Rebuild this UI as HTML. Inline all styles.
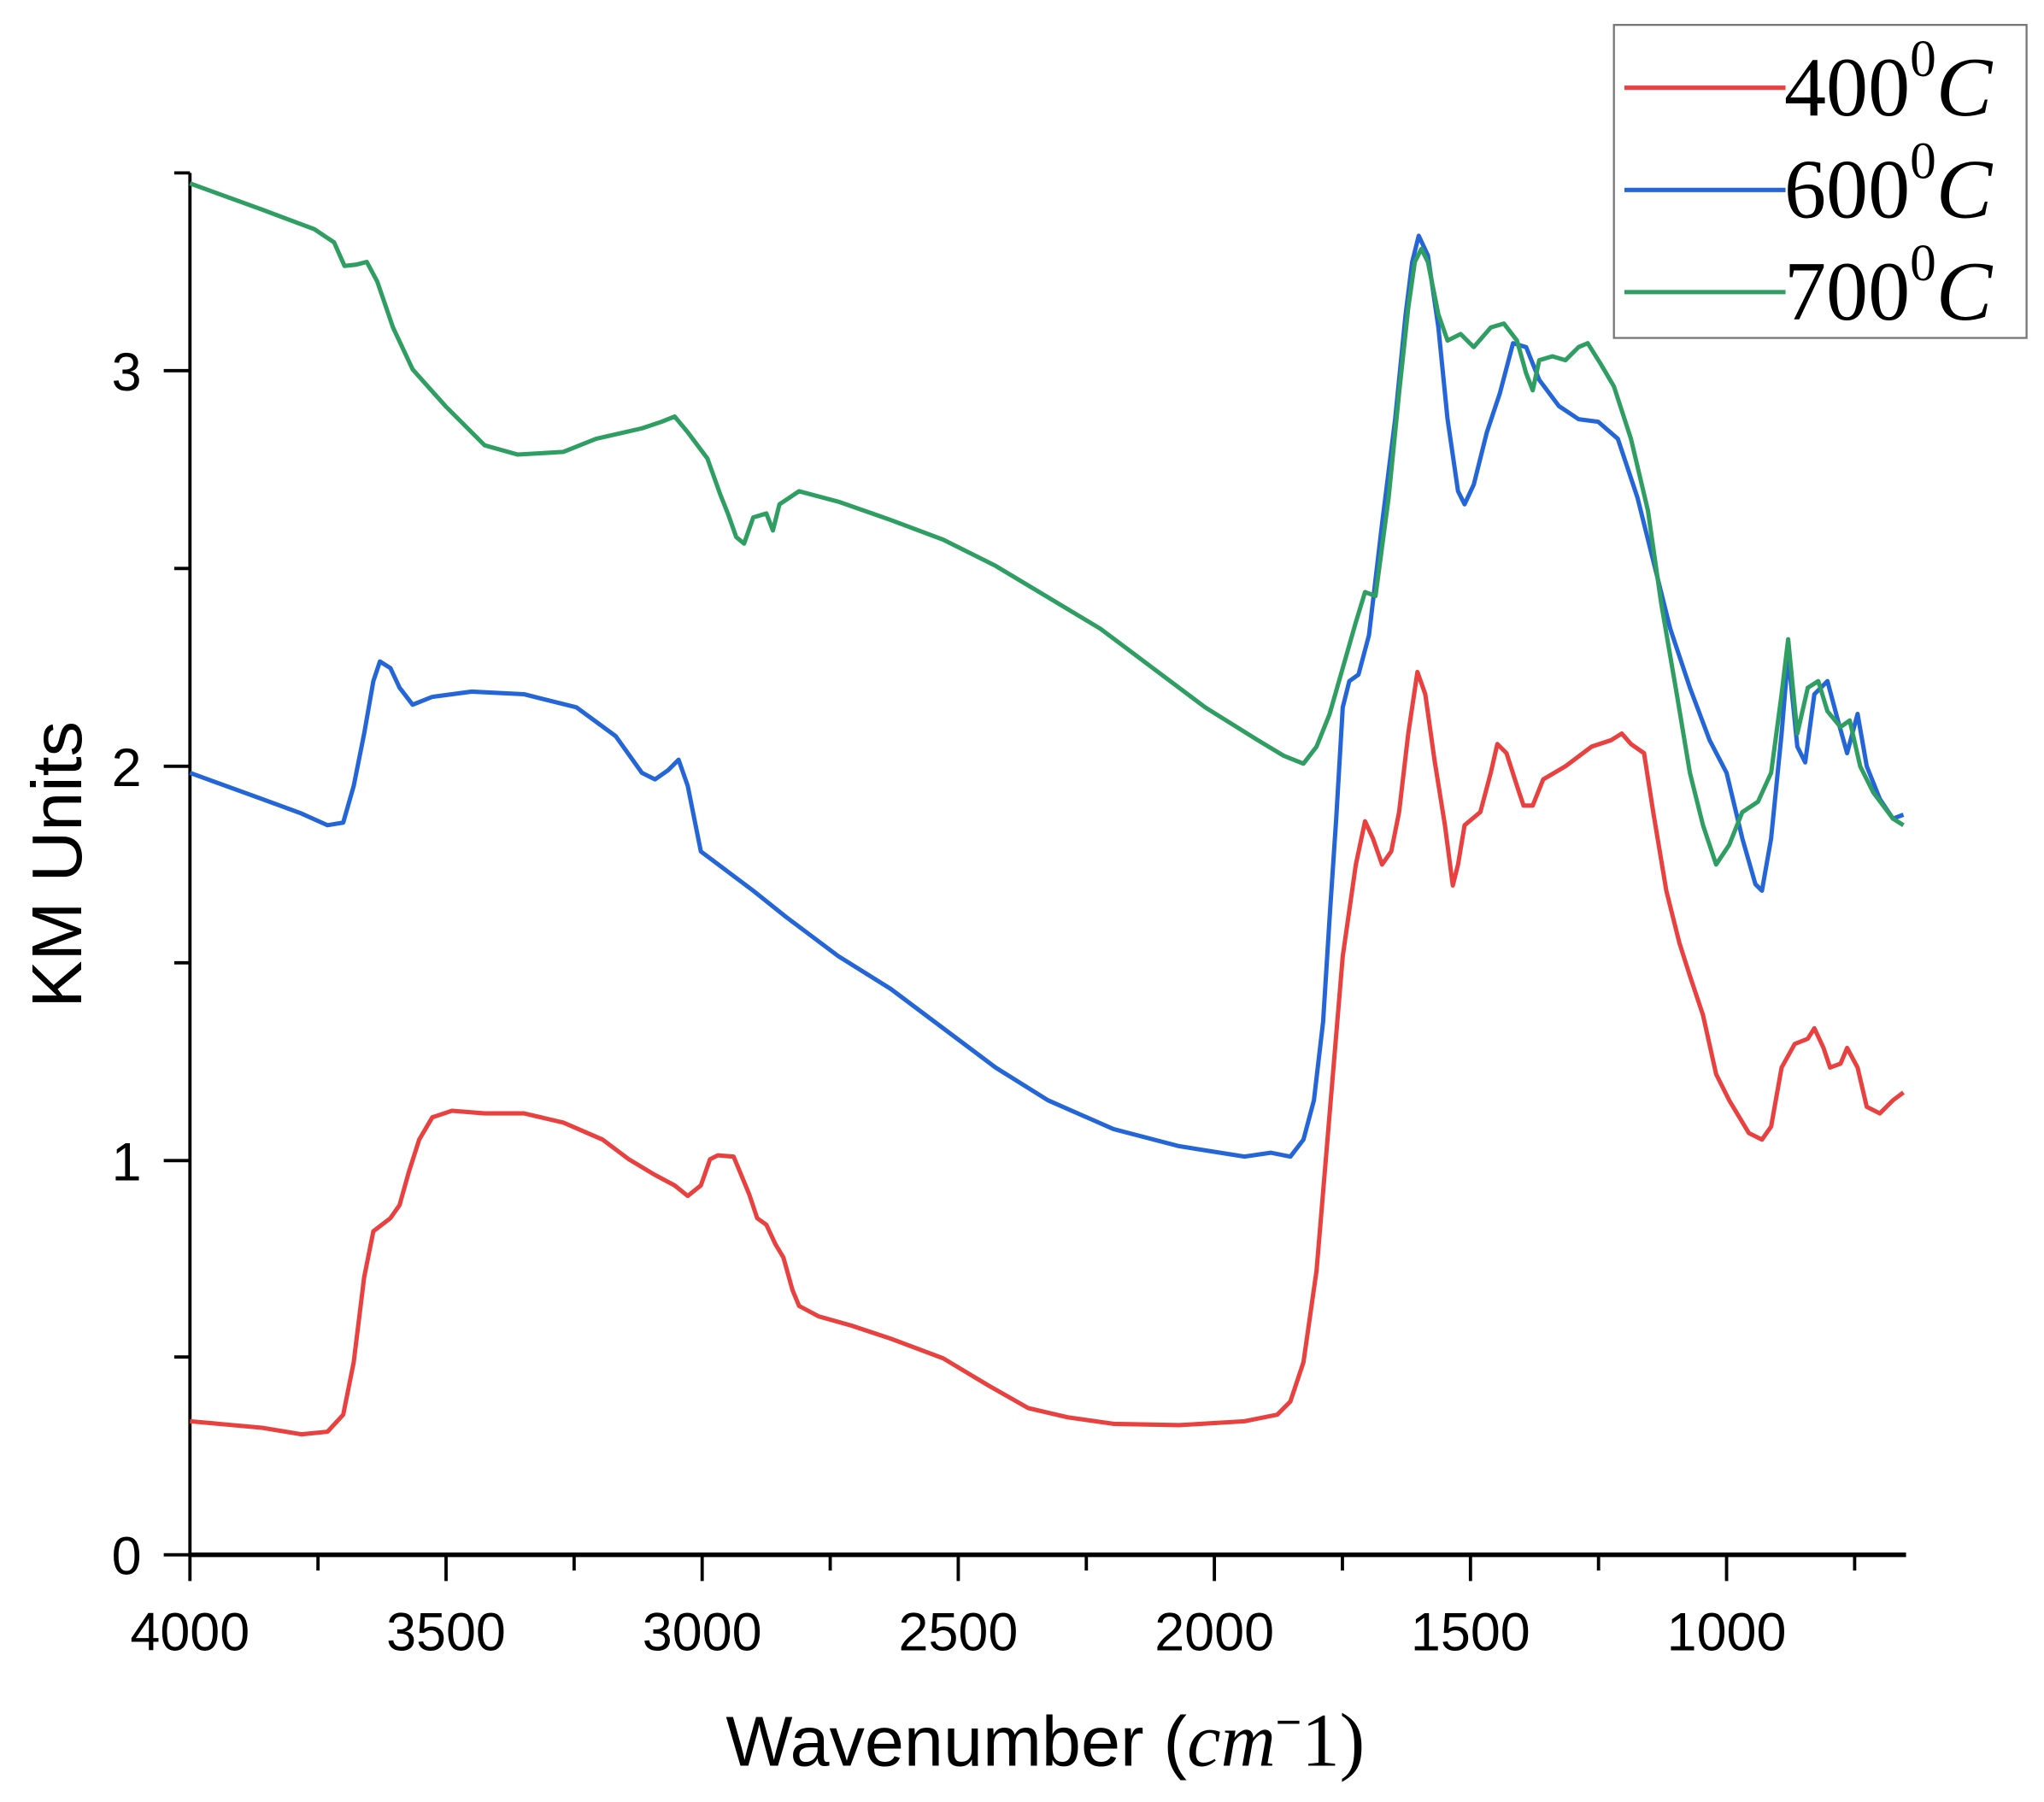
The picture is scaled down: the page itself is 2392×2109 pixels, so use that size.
<!DOCTYPE html>
<html><head><meta charset="utf-8"><style>
html,body{margin:0;padding:0;background:#fff;}
svg{display:block;}
</style></head><body>
<svg width="2392" height="2109" viewBox="0 0 1560.3 1375.7" preserveAspectRatio="none" xmlns="http://www.w3.org/2000/svg">
<rect width="1560.3" height="1375.7" fill="#fff"/>
<g stroke="#000" stroke-width="2.5" fill="none">
<line x1="145" y1="132" x2="145" y2="1188"/>
<line x1="145" y1="1187" x2="1455" y2="1187" stroke-width="3.5"/>
<line x1="125" y1="1187" x2="145" y2="1187"/>
<line x1="125" y1="886" x2="145" y2="886"/>
<line x1="125" y1="585" x2="145" y2="585"/>
<line x1="125" y1="283" x2="145" y2="283"/>
<line x1="133" y1="1036" x2="145" y2="1036"/>
<line x1="133" y1="735" x2="145" y2="735"/>
<line x1="133" y1="434" x2="145" y2="434"/>
<line x1="133" y1="132" x2="145" y2="132"/>
<line x1="145" y1="1187" x2="145" y2="1207"/>
<line x1="340.5" y1="1187" x2="340.5" y2="1207"/>
<line x1="536" y1="1187" x2="536" y2="1207"/>
<line x1="731.5" y1="1187" x2="731.5" y2="1207"/>
<line x1="927" y1="1187" x2="927" y2="1207"/>
<line x1="1122.5" y1="1187" x2="1122.5" y2="1207"/>
<line x1="1318" y1="1187" x2="1318" y2="1207"/>
<line x1="242.75" y1="1187" x2="242.75" y2="1199"/>
<line x1="438.25" y1="1187" x2="438.25" y2="1199"/>
<line x1="633.75" y1="1187" x2="633.75" y2="1199"/>
<line x1="829.25" y1="1187" x2="829.25" y2="1199"/>
<line x1="1024.75" y1="1187" x2="1024.75" y2="1199"/>
<line x1="1220.25" y1="1187" x2="1220.25" y2="1199"/>
<line x1="1415.75" y1="1187" x2="1415.75" y2="1199"/>
</g>
<g font-family="Liberation Sans, sans-serif" font-size="41" fill="#000">
<g text-anchor="end">
<text x="108" y="1202">0</text>
<text x="108" y="901">1</text>
<text x="108" y="600">2</text>
<text x="108" y="298">3</text>
</g>
<g text-anchor="middle">
<text x="145" y="1260">4000</text>
<text x="340.5" y="1260">3500</text>
<text x="536" y="1260">3000</text>
<text x="731.5" y="1260">2500</text>
<text x="927" y="1260">2000</text>
<text x="1122.5" y="1260">1500</text>
<text x="1318" y="1260">1000</text>
</g>
<text x="798" y="1348" text-anchor="middle" font-size="54">Wavenumber (<tspan font-family="Liberation Serif, serif" font-style="italic" font-size="58">cm</tspan><tspan font-size="34" dy="-22">−</tspan><tspan font-family="Liberation Serif, serif" font-size="58" dy="22">1)</tspan></text>
<text transform="translate(62,660) rotate(-90)" text-anchor="middle" font-size="54">KM Units</text>
</g>
<g fill="none" stroke-width="3.3" stroke-linejoin="round">
<polyline stroke="#e8413f" points="145,1085 200,1090 230,1095 250,1093 262,1080 270,1040 278,975 285,940 298,930 305,920 312,895 320,870 330,853 345,848 370,850 400,850 430,857 460,870 480,885 500,897 515,905 525,913 535,905 542,885 548,882 560,883 565,895 572,912 578,930 585,935 592,950 598,960 605,985 610,997 625,1005 650,1012 680,1022 720,1037 755,1058 785,1075 815,1082 850,1087 900,1088 950,1085 975,1080 985,1070 995,1040 1005,970 1015,850 1025,730 1035,660 1042,627 1048,640 1055,660 1062,650 1068,620 1075,560 1082,513 1088,530 1095,580 1103,630 1109,676 1113,660 1118,630 1130,620 1138,590 1143,568 1150,575 1158,600 1163,615 1170,615 1178,595 1195,585 1215,570 1230,565 1238,560 1245,568 1255,575 1262,620 1272,680 1282,720 1290,745 1300,775 1310,820 1320,840 1335,865 1345,870 1352,860 1360,815 1370,797 1380,793 1385,785 1392,800 1397,815 1405,812 1410,800 1418,815 1425,845 1435,850 1445,840 1453,834"/>
<polyline stroke="#2466d8" points="145,590 200,610 230,621 250,630 262,628 270,600 278,560 285,520 290,505 298,510 305,525 315,538 330,532 360,528 400,530 440,540 470,562 490,590 500,595 510,588 518,580 525,600 535,650 555,665 575,680 600,700 640,730 680,755 720,785 760,815 800,840 850,862 900,875 950,883 970,880 985,883 995,870 1003,840 1010,780 1015,700 1020,625 1025,540 1030,520 1037,515 1045,485 1055,400 1065,320 1073,240 1078,200 1083,180 1090,195 1098,250 1105,320 1113,375 1118,385 1125,370 1135,330 1145,300 1155,262 1165,265 1175,290 1190,310 1205,320 1220,322 1235,335 1250,380 1265,440 1275,480 1290,525 1305,565 1318,590 1330,640 1340,675 1345,680 1352,640 1360,560 1365,500 1372,570 1378,582 1385,530 1395,520 1403,550 1410,575 1418,545 1425,585 1435,610 1445,625 1453,622"/>
<polyline stroke="#2f9e62" points="145,140 200,160 240,175 255,185 263,203 272,202 280,200 288,215 300,250 315,282 340,310 370,340 395,347 430,345 455,335 490,327 505,322 515,318 525,330 540,350 550,378 556,393 562,410 568,415 575,395 585,392 590,405 595,385 610,375 640,383 680,397 720,412 760,432 800,456 840,480 880,510 920,540 960,565 980,577 995,583 1005,570 1015,545 1025,510 1035,475 1042,452 1050,455 1060,380 1068,300 1075,235 1080,200 1085,190 1090,200 1098,240 1105,260 1115,255 1125,265 1138,250 1148,247 1158,260 1165,285 1170,298 1175,275 1185,272 1195,275 1205,265 1212,262 1222,278 1232,295 1245,335 1258,390 1268,460 1280,530 1290,590 1300,630 1310,660 1320,645 1330,620 1342,612 1352,590 1360,530 1365,488 1372,560 1380,525 1388,520 1395,543 1405,555 1412,550 1420,585 1430,605 1445,625 1453,630"/>
</g>
<rect x="1232" y="19" width="315" height="239" fill="#fff" stroke="#777" stroke-width="1.5"/>
<g stroke-width="3.3">
<line x1="1240" y1="67" x2="1363" y2="67" stroke="#e8413f"/>
<line x1="1240" y1="145" x2="1363" y2="145" stroke="#2466d8"/>
<line x1="1240" y1="223" x2="1363" y2="223" stroke="#2f9e62"/>
</g>
<g font-family="Liberation Serif, serif" font-size="64" fill="#000">
<text x="1362" y="88">400<tspan font-size="40" dy="-30">0</tspan><tspan font-style="italic" dy="30">C</tspan></text>
<text x="1362" y="166">600<tspan font-size="40" dy="-30">0</tspan><tspan font-style="italic" dy="30">C</tspan></text>
<text x="1362" y="244">700<tspan font-size="40" dy="-30">0</tspan><tspan font-style="italic" dy="30">C</tspan></text>
</g>
</svg>
</body></html>
